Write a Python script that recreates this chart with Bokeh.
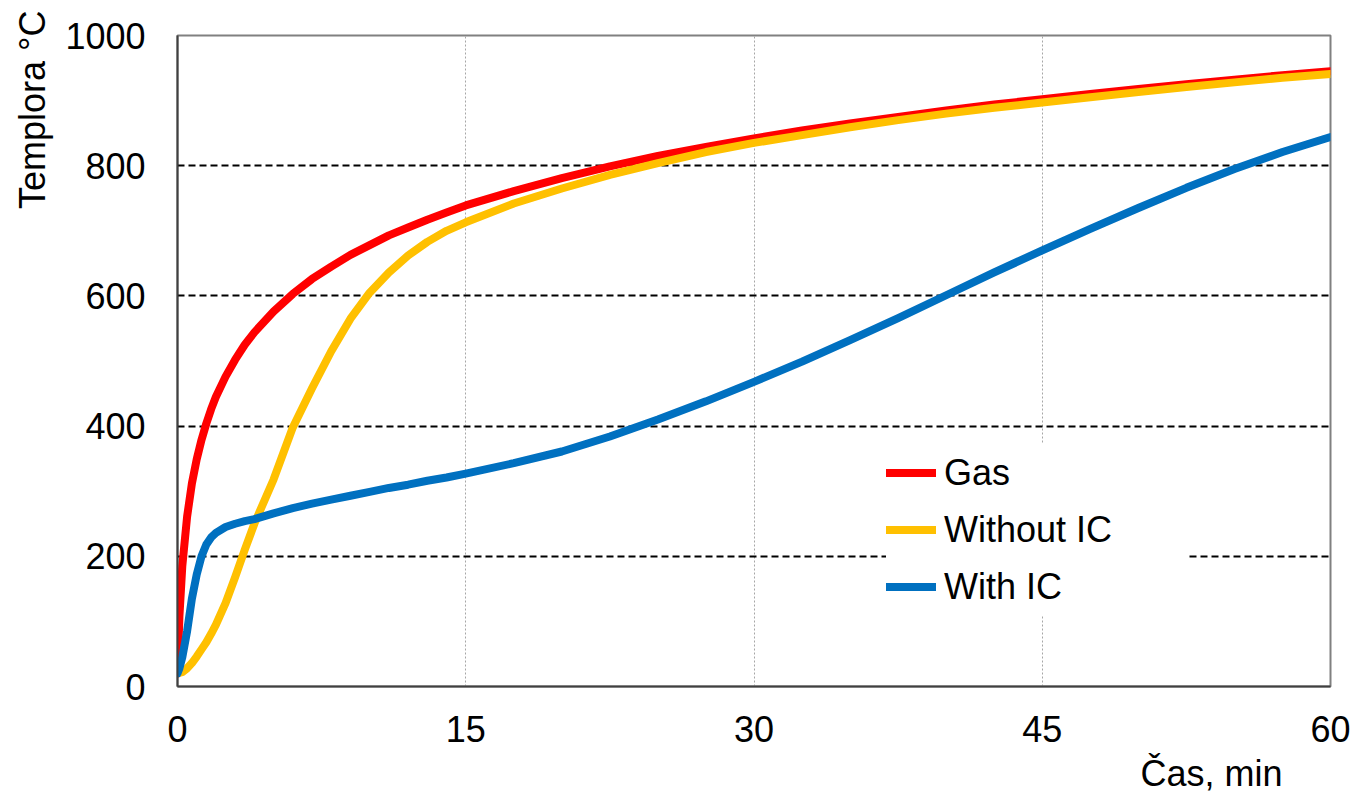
from bokeh.plotting import figure
from bokeh.models import Range1d, Legend, LegendItem, Title
from bokeh.embed import file_html
from bokeh.resources import INLINE

# ---- data ----
time_min = [0, 0.1, 0.25, 0.5, 0.75, 1, 1.25, 1.5, 1.75, 2, 2.5, 3, 3.5, 4, 5, 6, 7, 8, 9, 10,
            11, 12, 13, 14, 15, 17.5, 20, 22.5, 25, 27.5, 30, 32.5, 35, 37.5, 40, 42.5, 45,
            47.5, 50, 52.5, 55, 57.5, 60]
gas = [20, 108, 185, 261, 312, 349, 379, 404, 426, 445, 476, 502, 525, 544, 576, 603, 626, 645,
       663, 678, 693, 705, 717, 728, 739, 761, 781, 799, 815, 829, 842, 854, 865, 875, 885, 894,
       902, 910, 918, 925, 932, 939, 945]
without_ic = [20, 21, 22, 28, 36, 46, 57, 68, 81, 95, 128, 168, 210, 250, 318, 398, 458, 515,
              565, 605, 636, 662, 683, 700, 713, 742, 765, 786, 804, 821, 835, 847, 859, 870,
              880, 889, 897, 905, 913, 921, 928, 935, 941]
with_ic = [20, 28, 45, 85, 135, 172, 200, 218, 229, 236, 245, 250, 254, 257, 266, 274, 281, 287,
           293, 299, 305, 310, 316, 321, 327, 343, 361, 384, 410, 438, 468, 499, 532, 566, 601,
           636, 670, 703, 735, 766, 795, 821, 844]

series_names = ["Gas", "Without IC", "With IC"]
series_colors = ["#FF0000", "#FFC000", "#0070C0"]
x_ticks = [0, 15, 30, 45, 60]
y_ticks = [0, 200, 400, 600, 800, 1000]
y_grid = [200, 400, 600, 800]
x_grid = [15, 30, 45]
x_title = "Čas, min"
y_title = "Templora °C"

FONT = "Liberation Sans"

p = figure(width=1357, height=802, output_backend="svg", toolbar_location=None,
           x_range=Range1d(0, 60), y_range=Range1d(0, 1000),
           min_border_left=177, min_border_right=27, min_border_top=35, min_border_bottom=116)
p.background_fill_color = "white"
p.border_fill_color = "white"
p.outline_line_color = "#808080"
p.outline_line_width = 2

for ax in (p.xaxis[0], p.yaxis[0]):
    ax.major_tick_in = 0
    ax.major_tick_out = 0
    ax.minor_tick_in = 0
    ax.minor_tick_out = 0
    ax.axis_line_color = "#404040"
    ax.axis_line_width = 2
    ax.major_label_text_font = FONT
    ax.major_label_text_font_size = "36px"
    ax.major_label_text_color = "black"
p.xaxis.ticker = x_ticks
p.yaxis.ticker = y_ticks
p.xaxis.major_label_standoff = 29
p.yaxis.major_label_standoff = 32

p.ygrid.ticker = y_grid
p.ygrid.grid_line_color = "black"
p.ygrid.grid_line_dash = "7 4"
p.ygrid.grid_line_width = 2
p.xgrid.ticker = x_grid
p.xgrid.grid_line_color = "#A6A6A6"
p.xgrid.grid_line_dash = "2 2"
p.xgrid.grid_line_width = 1

renderers = []
for ys, col in zip([gas, without_ic, with_ic], series_colors):
    r = p.line(time_min, ys, line_color=col, line_width=8, line_cap="round", line_join="round")
    renderers.append(r)

legend = Legend(items=[LegendItem(label=n, renderers=[r]) for n, r in zip(series_names, renderers)],
                location=(709, 71), padding=0, margin=0, spacing=0,
                glyph_width=50, glyph_height=57, label_height=57, label_width=244,
                label_standoff=8, background_fill_color="white", background_fill_alpha=1.0,
                border_line_color=None, label_text_font=FONT, label_text_font_size="36px",
                label_text_color="black")
p.add_layout(legend)

p.add_layout(Title(text=y_title, align="right", offset=-25, standoff=19, text_font=FONT,
                   text_font_size="36px", text_font_style="normal", text_color="black"), "left")
p.add_layout(Title(text=x_title, align="right", offset=48, standoff=13, text_font=FONT,
                   text_font_size="36px", text_font_style="normal", text_color="black"), "below")

open("out.html", "w").write(file_html(p, INLINE))
